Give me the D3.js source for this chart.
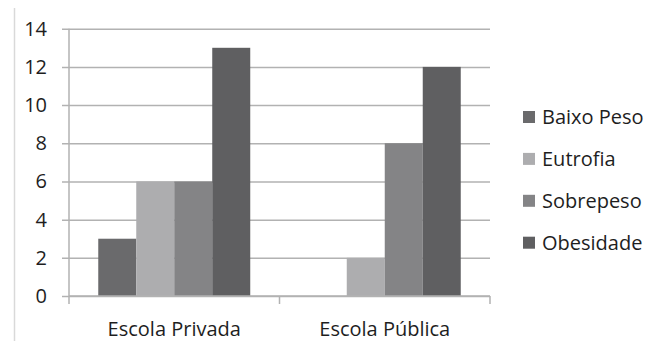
<!DOCTYPE html>
<html>
<head>
<meta charset="utf-8">
<script src="https://cdn.jsdelivr.net/npm/d3@7"></script>
<style>
  html, body { margin: 0; padding: 0; background: #fff; }
  svg { display: block; }
  text { font-family: "Open Sans", sans-serif; fill: #1e1e1e; }
</style>
</head>
<body>
<svg id="chart" width="660" height="341"></svg>
<script>
const categories = ["Escola Privada", "Escola Pública"];
const seriesNames = ["Baixo Peso", "Eutrofia", "Sobrepeso", "Obesidade"];
const baixoPeso = [3, 0];
const eutrofia = [6, 2];
const sobrepeso = [6, 8];
const obesidade = [13, 12];
const yTicks = [0, 2, 4, 6, 8, 10, 12, 14];
const colors = ["#6a6a6c", "#adadaf", "#848486", "#5f5f61"];

const seriesValues = [baixoPeso, eutrofia, sobrepeso, obesidade];
const svg = d3.select("#chart");

const mLeft = 69, mRight = 490, mTop = 28.7, mBottom = 296;
const fs = 20;

const y = d3.scaleLinear().domain([0, 14]).range([mBottom, mTop]);
const x0 = d3.scaleBand().domain(categories).range([mLeft, mRight]).padding(0);
const x1 = d3.scaleBand().domain(seriesNames).range([0, x0.bandwidth()]).paddingInner(0).paddingOuter(0.77);
const color = d3.scaleOrdinal().domain(seriesNames).range(colors);

// left border line
svg.append("line").attr("x1", 14.5).attr("x2", 14.5).attr("y1", 8).attr("y2", 341)
  .attr("stroke", "#d9d9d9").attr("stroke-width", 1.5);

// gridlines + y axis
const yAxis = d3.axisLeft(y).tickValues(yTicks).tickSize(-(mRight - mLeft)).tickSizeOuter(0).tickPadding(22);
const gy = svg.append("g").attr("transform", `translate(${mLeft},0)`).call(yAxis);
gy.select(".domain").remove();
gy.selectAll(".tick line").attr("stroke", "#b2b2b2").attr("stroke-width", 1.5).attr("x1", -7);
gy.selectAll(".tick text").attr("font-size", fs).attr("fill", "#1e1e1e").attr("font-family", "Open Sans, sans-serif");

// bars
const groups = svg.append("g").selectAll("g").data(categories).join("g")
  .attr("transform", d => `translate(${x0(d)},0)`);
groups.selectAll("rect")
  .data((c, ci) => seriesNames.map((s, si) => ({ s, v: seriesValues[si][ci] })))
  .join("rect")
  .attr("x", d => x1(d.s))
  .attr("width", x1.bandwidth())
  .attr("y", d => y(d.v))
  .attr("height", d => y(0) - y(d.v))
  .attr("fill", d => color(d.s));

// x axis
const xAxis = d3.axisBottom(x0).tickSize(0).tickPadding(25.5);
const gx = svg.append("g").attr("transform", `translate(0,${mBottom})`).call(xAxis);
gx.select(".domain").attr("stroke", "#b2b2b2").attr("stroke-width", 1.5).attr("d", `M${mLeft},0H${mRight}`);
gx.selectAll(".tick text").attr("font-size", fs).attr("fill", "#1e1e1e").attr("font-family", "Open Sans, sans-serif");
// category separator ticks
const sepX = [mLeft, ...categories.map(c => x0(c) + x0.bandwidth())];
gx.selectAll(".sep").data(sepX).join("line").attr("class", "sep")
  .attr("x1", d => d).attr("x2", d => d).attr("y1", 0).attr("y2", 8)
  .attr("stroke", "#b2b2b2").attr("stroke-width", 1.5);
// y axis vertical line
svg.append("line").attr("x1", mLeft).attr("x2", mLeft).attr("y1", mTop).attr("y2", mBottom)
  .attr("stroke", "#b2b2b2").attr("stroke-width", 1.5);

// legend
const legendY = d3.scalePoint().domain(seriesNames).range([117, 242.7]);
const lg = svg.append("g").selectAll("g").data(seriesNames).join("g")
  .attr("transform", d => `translate(523,${legendY(d)})`);
lg.append("rect").attr("x", 0).attr("y", -6).attr("width", 12).attr("height", 12).attr("fill", d => color(d));
lg.append("text").attr("x", 19).attr("dy", "0.35em").attr("font-size", fs).text(d => d);
</script>
</body>
</html>
